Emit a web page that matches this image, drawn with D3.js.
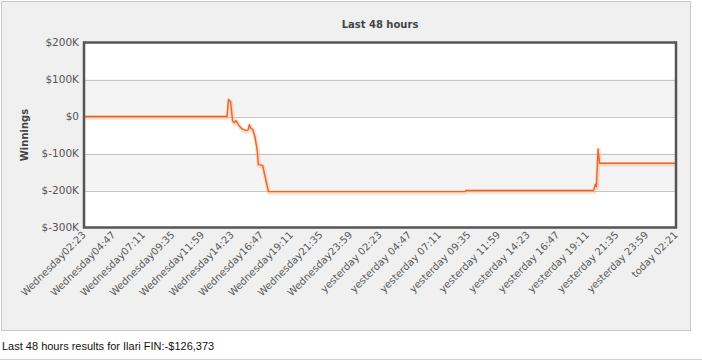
<!DOCTYPE html>
<html>
<head>
<meta charset="utf-8">
<script src="https://cdn.jsdelivr.net/npm/d3@7"></script>
<style>
html,body{margin:0;padding:0;background:#fff;}
svg{display:block;}
</style>
</head>
<body>
<svg id="chart" width="702" height="364"></svg>
<script>
// ---- data ----
const xLabels = [
  "Wednesday02:23","Wednesday04:47","Wednesday07:11","Wednesday09:35","Wednesday11:59",
  "Wednesday14:23","Wednesday16:47","Wednesday19:11","Wednesday21:35","Wednesday23:59",
  "yesterday 02:23","yesterday 04:47","yesterday 07:11","yesterday 09:35","yesterday 11:59",
  "yesterday 14:23","yesterday 16:47","yesterday 19:11","yesterday 21:35","yesterday 23:59",
  "today 02:21"
];
const tickStepMinutes = 144;
const yTicks = [200000, 100000, 0, -100000, -200000, -300000];
const yTickLabels = ["$200K","$100K","$0","$-100K","$-200K","$-300K"];
// minutes since first tick
const minutes = [0, 696, 703, 713, 723, 731, 739, 751, 767, 788, 799, 804, 813, 821, 832, 843, 848, 869, 897,
  1854, 1858, 2479, 2488, 2493, 2501, 2508, 2880];
const winnings = [0, 0, 46000, 40000, -12000, -17000, -11000, -22000, -33000, -38000, -36000, -22000, -33000, -35000,
  -56000, -92000, -130000, -132000, -203000, -203000, -200000, -200000, -183000, -190000, -88000, -126373, -126373];
const title = "Last 48 hours";
const yTitle = "Winnings";
const footer = "Last 48 hours results for Ilari FIN:-$126,373";

// ---- drawing ----
const svg = d3.select("#chart");
const L = 84, R = 676, T = 42.5, B = 227.5;

svg.append("rect").attr("x",1.5).attr("y",1.5).attr("width",689).attr("height",329)
  .attr("fill","#f0f0f0").attr("stroke","#c8c8c8");

const x = d3.scaleLinear().domain([0, tickStepMinutes*(xLabels.length-1)]).range([L, R]);
const y = d3.scaleLinear().domain([-300000, 200000]).range([B, T]);

// bands
const bandEdges = yTicks.slice(0, -1).map((v,i)=>[v, yTicks[i+1]]);
svg.append("g").selectAll("rect").data(bandEdges).join("rect")
  .attr("x", L).attr("width", R-L)
  .attr("y", d=>y(d[0])).attr("height", d=>y(d[1])-y(d[0]))
  .attr("fill", (d,i)=> i%2 ? "#f4f4f4" : "#ffffff");

// gridlines
svg.append("g").selectAll("line").data(yTicks.slice(1,-1)).join("line")
  .attr("x1",L).attr("x2",R).attr("y1",d=>Math.round(y(d))+0.5).attr("y2",d=>Math.round(y(d))+0.5)
  .attr("stroke","#c4c4c4").attr("stroke-width",1);

// line
const line = d3.line().x((d,i)=>x(minutes[i])).y((d)=>y(d)).curve(d3.curveLinear);
svg.append("path").datum(winnings).attr("d",line).attr("fill","none")
  .attr("stroke","#f6b98f").attr("stroke-opacity",0.45).attr("stroke-width",4.5)
  .attr("transform","translate(0.5,1)").attr("stroke-linejoin","round");
svg.append("path").datum(winnings).attr("d",line).attr("fill","none")
  .attr("stroke","#e8652c").attr("stroke-width",1.4).attr("stroke-linejoin","round");

// frame
svg.append("rect").attr("x",L).attr("y",T).attr("width",R-L).attr("height",B-T)
  .attr("fill","none").attr("stroke","#555").attr("stroke-width",2.5);

// y axis labels
const yAxis = d3.axisLeft(y).tickValues(yTicks).tickSize(0).tickPadding(4)
  .tickFormat((d,i)=>yTickLabels[i]);
const gy = svg.append("g").attr("transform",`translate(${L-1},0)`).call(yAxis);
gy.select(".domain").remove();
gy.selectAll("text").attr("font-family","DejaVu Sans, Verdana, sans-serif").attr("font-size","10.5px")
  .attr("fill","#555");

// x axis labels
const xAxis = d3.axisBottom(x).tickValues(xLabels.map((d,i)=>i*tickStepMinutes)).tickSize(0)
  .tickFormat((d,i)=>xLabels[i]);
const gx = svg.append("g").attr("transform",`translate(0,${B})`).call(xAxis);
gx.select(".domain").remove();
gx.selectAll("text").attr("font-family","DejaVu Sans, Verdana, sans-serif").attr("font-size","10px")
  .attr("fill","#5a5a5a").attr("text-anchor","end").attr("dy",null).attr("y",null)
  .attr("transform","translate(2,8) rotate(-45)");

// titles
svg.append("text").attr("x",(L+R)/2).attr("y",28).attr("text-anchor","middle")
  .attr("font-family","DejaVu Sans, Verdana, sans-serif").attr("font-size","10px").attr("font-weight","bold")
  .attr("fill","#444").text(title);
svg.append("text").attr("transform",`translate(28,${(T+B)/2}) rotate(-90)`).attr("text-anchor","middle")
  .attr("font-family","DejaVu Sans, Verdana, sans-serif").attr("font-size","10px").attr("font-weight","bold")
  .attr("fill","#444").text(yTitle);

svg.append("text").attr("x",2).attr("y",350).attr("font-family","Liberation Sans, Arial, sans-serif")
  .attr("font-size","11px").attr("fill","#111").text(footer);
svg.append("line").attr("x1",0).attr("x2",702).attr("y1",359.5).attr("y2",359.5).attr("stroke","#d0d0d0");
</script>
</body>
</html>
